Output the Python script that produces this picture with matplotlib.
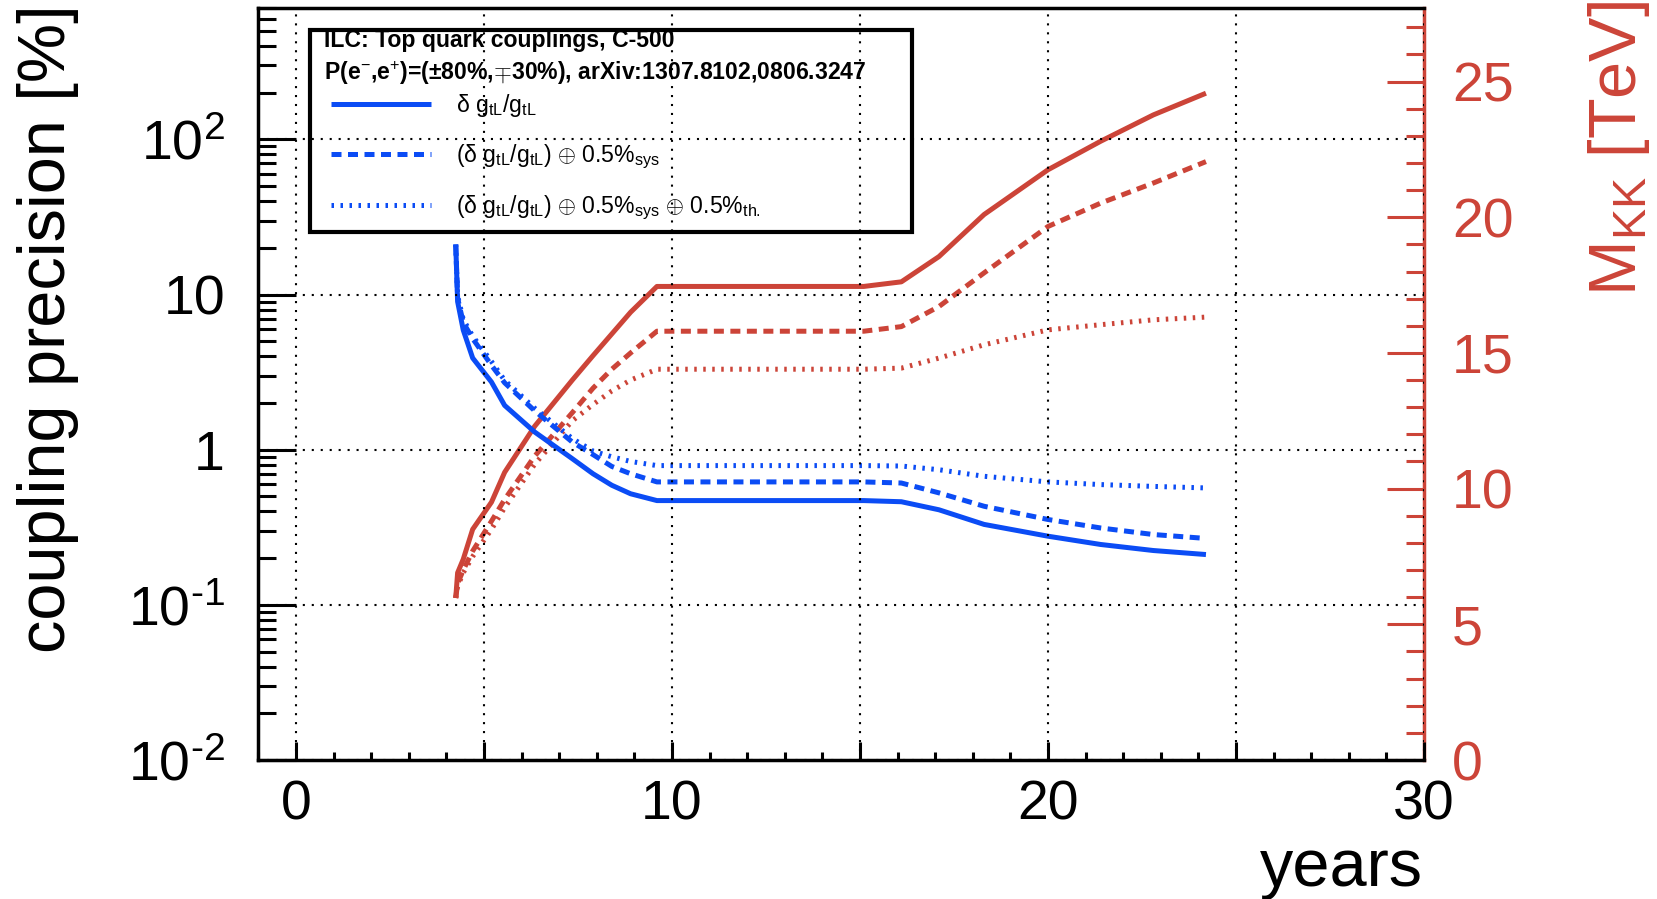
import numpy as np
import matplotlib
matplotlib.use('Agg')
import matplotlib.pyplot as plt
from matplotlib.ticker import MultipleLocator, FixedLocator, FixedFormatter, FuncFormatter, LogLocator, NullFormatter
from matplotlib.patches import Rectangle

plt.rcParams['font.family'] = ['Liberation Sans', 'DejaVu Sans']
plt.rcParams['mathtext.fontset'] = 'custom'
plt.rcParams['mathtext.rm'] = 'Liberation Sans'
plt.rcParams['mathtext.it'] = 'Liberation Sans:italic'
plt.rcParams['mathtext.bf'] = 'Liberation Sans:bold'
plt.rcParams['mathtext.sf'] = 'Liberation Sans'

# data
years = [4.25, 4.3, 4.45, 4.7, 5.2, 5.55, 6.35, 7.35, 7.9, 8.4, 8.9, 9.6,
         15.1, 16.1, 17.1, 18.3, 20.0, 21.4, 22.8, 24.2]

# coupling precision [%]
prec_stat = [21, 9.0, 5.9, 3.9, 2.73, 1.93, 1.30, 0.875, 0.70, 0.59, 0.52, 0.47,
             0.47, 0.462, 0.41, 0.33, 0.277, 0.245, 0.224, 0.211]
prec_sys = [21, 9.5, 6.6, 5.2, 3.5, 2.7, 1.78, 1.12, 0.93, 0.78, 0.70, 0.62,
            0.62, 0.61, 0.527, 0.432, 0.355, 0.313, 0.284, 0.268]
prec_th = [21, 9.8, 6.9, 5.4, 3.7, 2.8, 1.85, 1.18, 0.98, 0.90, 0.84, 0.79,
           0.79, 0.785, 0.743, 0.674, 0.62, 0.596, 0.58, 0.567]

# M_KK [TeV]
mkk_stat = [5.97, 6.9, 7.4, 8.5, 9.5, 10.6, 12.3, 14.0, 14.9, 15.7, 16.5, 17.45,
            17.45, 17.62, 18.55, 20.1, 21.75, 22.8, 23.77, 24.57]
mkk_sys = [5.97, 6.5, 7.0, 7.7, 8.8, 9.6, 11.2, 12.8, 13.7, 14.4, 15.0, 15.8,
           15.8, 15.97, 16.71, 17.95, 19.66, 20.52, 21.26, 22.05]
mkk_th = [5.97, 6.4, 6.9, 7.5, 8.5, 9.3, 10.9, 12.5, 13.1, 13.6, 14.0, 14.4,
          14.4, 14.44, 14.81, 15.3, 15.85, 16.04, 16.22, 16.32]

y_ticks = [0.01, 0.1, 1, 10, 100]
y_ticklabels = ['10$^{\\text{-}2}$', '10$^{\\text{-}1}$', '1', '10', '10$^{2}$']

labels = ['δ g$_{\\rm tL}$/g$_{\\rm tL}$',
          '(δ g$_{\\rm tL}$/g$_{\\rm tL}$) $\\oplus$ 0.5%$_{\\rm sys}$',
          '(δ g$_{\\rm tL}$/g$_{\\rm tL}$) $\\oplus$ 0.5%$_{\\rm sys}$ $\\oplus$ 0.5%$_{\\rm th.}$']

blue = '#0b4cf5'
red = '#cc4438'
lw = 3.6
dash = (0, (2.0, 1.3))
dot = (0, (0.5, 1.3))

fig = plt.figure(figsize=(16.58, 8.99), dpi=100)
ax = fig.add_axes([0.1558, 0.1546, 0.7031, 0.8362])
ax2 = ax.twinx()
# red axis behind the black frame
ax2.set_zorder(ax.get_zorder() - 1)
ax.patch.set_visible(False)

l1, = ax.plot(years, prec_stat, color=blue, lw=lw, solid_capstyle='butt')
l2, = ax.plot(years, prec_sys, color=blue, lw=lw, linestyle=dash)
l3, = ax.plot(years, prec_th, color=blue, lw=lw, linestyle=dot)

ax2.plot(years, mkk_stat, color=red, lw=lw, solid_capstyle='butt')
ax2.plot(years, mkk_sys, color=red, lw=lw, linestyle=dash)
ax2.plot(years, mkk_th, color=red, lw=lw, linestyle=dot)

ax.set_xlim(-1, 30)
ax.set_yscale('log')
ax.set_ylim(0.01, 700)
ax2.set_ylim(0, 27.7)

# x axis
ax.xaxis.set_major_locator(MultipleLocator(5))
ax.xaxis.set_minor_locator(MultipleLocator(1))
ax.xaxis.set_major_formatter(FuncFormatter(lambda v, p: '%d' % v if abs(v % 10) < 1e-6 else ''))
ax.tick_params(axis='x', which='major', direction='in', length=13, width=2.2, labelsize=40, pad=14, top=False)
ax.tick_params(axis='x', which='minor', direction='in', length=6, width=2.2, top=False)

# left axis
ax.yaxis.set_major_locator(FixedLocator(y_ticks))
ax.yaxis.set_major_formatter(FixedFormatter(y_ticklabels))
ax.yaxis.set_minor_locator(LogLocator(base=10, subs=np.arange(2, 10)))
ax.yaxis.set_minor_formatter(NullFormatter())
ax.tick_params(axis='y', which='major', direction='in', length=27, width=2.2, labelsize=40, pad=24, right=False)
ax.tick_params(axis='y', which='minor', direction='in', length=13, width=2.2, right=False)

# right axis
ax2.yaxis.set_major_locator(MultipleLocator(5))
ax2.yaxis.set_minor_locator(MultipleLocator(1))
ax2.tick_params(axis='y', which='major', direction='in', length=27, width=2.2, labelsize=40, pad=20,
                colors=red)
ax2.tick_params(axis='y', which='minor', direction='in', length=13, width=2.2, colors=red)
ax2.tick_params(axis='x', which='both', bottom=False, top=False, labelbottom=False)

for s in ['left', 'bottom', 'top']:
    ax.spines[s].set_linewidth(2.5)
    ax2.spines[s].set_visible(False)
ax.spines['right'].set_visible(False)
ax2.spines['right'].set_linewidth(2.5)
ax2.spines['right'].set_color(red)

# grid over the legend box
ax.grid(True, which='major', color='black', linestyle=(0, (1, 3.3)), linewidth=1.5)
ax.set_axisbelow(False)

# legend box
ax.add_patch(Rectangle((0.0444, 0.702), 0.516, 0.269, transform=ax.transAxes,
                       facecolor='white', edgecolor='black', lw=3, zorder=1))
ax.text(0.0564, 0.949, 'ILC: Top quark couplings, C-500', transform=ax.transAxes,
        fontsize=16.6, fontweight='bold', va='baseline', ha='left', zorder=1.2)
ax.text(0.0564, 0.9046, 'P(e$^{-}$,e$^{+}$)=(±80%,$\\mp$30%), arXiv:1307.8102,0806.3247',
        transform=ax.transAxes, fontsize=16.6, fontweight='bold', va='baseline', ha='left', zorder=1.2)
leg = ax.legend([l1, l2, l3], labels, loc='upper left', bbox_to_anchor=(0.0625, 0.888),
                frameon=False, fontsize=16.6, handlelength=4.35, handletextpad=1.05,
                labelspacing=1.0, borderaxespad=0, borderpad=0)
leg.set_zorder(1.2)

fig.text(0.029, 0.995, 'coupling precision [%]', rotation=90, fontsize=48, ha='center', va='top')
fig.text(0.9765, 0.999, 'M$_{\\rm KK}$ [TeV]', rotation=90, fontsize=48, ha='center', va='top', color=red)
fig.text(0.858, 0.0145, 'years', fontsize=48, ha='right', va='baseline')

fig.savefig('out.png', dpi=100, facecolor='white')
